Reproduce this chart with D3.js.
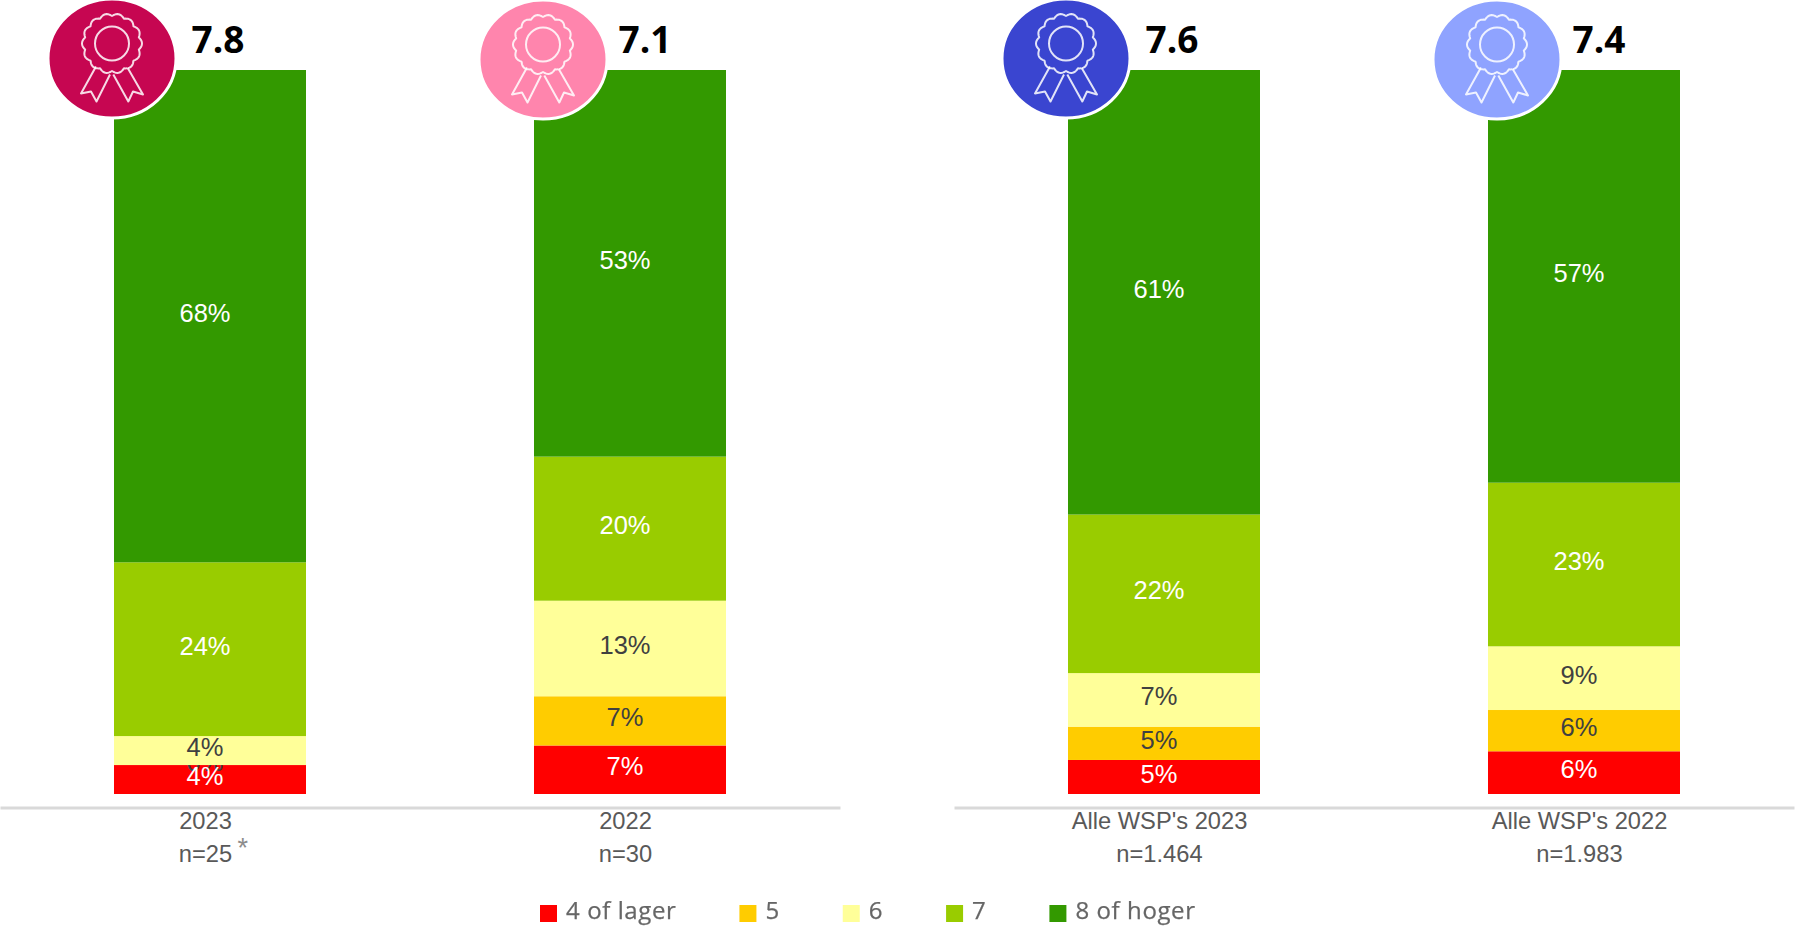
<!DOCTYPE html>
<html>
<head>
<meta charset="utf-8">
<style>
  html, body { margin: 0; padding: 0; background: #fff; }
  svg { display: block; }
  text { font-family: "Liberation Sans", Arial, sans-serif; }
  .score { font-family: "Open Sans", sans-serif; font-weight: 700; font-size: 37px; fill: #000; }
  .value { font-size: 25.5px; }
  .tick text { font-size: 23.7px; fill: #595959; }
  .legend-label { font-family: "Open Sans", sans-serif; font-size: 24px; letter-spacing: 0.6px; fill: #666; stroke: #666; stroke-width: 0.25px; filter: blur(0.4px); }
</style>
</head>
<body>
<svg></svg>
<script src="https://cdn.jsdelivr.net/npm/d3@7"></script>
<script>
var width = 1795,
    height = 926;

// Two panels with two bars each
var panel1Bars = ['2023', '2022'];
var panel2Bars = ["Alle WSP's 2023", "Alle WSP's 2022"];
var panel1N = ['n=25', 'n=30'];
var panel2N = ['n=1.464', 'n=1.983'];
var panel1Scores = ['7.8', '7.1'];
var panel2Scores = ['7.6', '7.4'];
var panel1Badges = ['#c60651', '#ff85ad'];
var panel2Badges = ['#3a45d0', '#8fa3ff'];

// Rating classes, bottom to top of the stack
var ratings = ['4 of lager', '5', '6', '7', '8 of hoger'];
var ratingColors = ['#ff0000', '#ffcc00', '#ffff99', '#99cc00', '#339900'];
var ratingText = ['#fff', '#404040', '#404040', '#fff', '#fff'];

// Percentages per bar
var lager = [4, 6.7, 4.7, 5.9];
var vijf = [0, 6.8, 4.6, 5.7];
var zes = [4, 13.2, 7.4, 8.8];
var zeven = [24, 19.9, 21.9, 22.6];
var hoger = [68, 53.4, 61.4, 57];
var seriesValues = [lager, vijf, zes, zeven, hoger];

var panelWidth = 840,
    barWidth = 192,
    axisY = 807.5,
    labelShift = -5;

var svg = d3.select('svg')
    .attr('width', width)
    .attr('height', height);

var y = d3.scaleLinear()
    .domain([0, 100])
    .range([794, 70]);

function drawPanel(left, names, counts, scores, badges, offset) {
    var g = svg.append('g')
        .attr('transform', 'translate(' + left + ',0)');

    var x = d3.scaleBand()
        .domain(names)
        .range([0, panelWidth]);

    var barX = function(name) {
        return x(name) + (x.bandwidth() - barWidth) / 2;
    };

    var rows = names.map(function(name, i) {
        var row = { name: name };
        ratings.forEach(function(r, s) {
            row[r] = seriesValues[s][i + offset];
        });
        return row;
    });

    var stacked = d3.stack().keys(ratings)(rows);

    // Each class draws its rect and label, so a later rect can hide an empty label
    var layers = g.selectAll('.layer')
        .data(stacked)
        .enter().append('g')
        .attr('class', 'layer');

    layers.selectAll('rect')
        .data(function(s) { return s; })
        .enter().append('rect')
        .attr('x', function(d) { return barX(d.data.name); })
        .attr('width', barWidth)
        .attr('y', function(d) { return y(d[1]); })
        .attr('height', function(d) { return y(d[0]) - y(d[1]); })
        .style('fill', function(d) { return ratingColors[ratings.indexOf(this.parentNode.__data__.key)]; });

    layers.selectAll('text')
        .data(function(s) { return s; })
        .enter().append('text')
        .attr('class', 'value')
        .attr('text-anchor', 'middle')
        .attr('x', function(d) { return barX(d.data.name) + barWidth / 2 + labelShift; })
        .attr('y', function(d) { return (y(d[0]) + y(d[1])) / 2 + 5.6; })
        .style('fill', function(d) { return ratingText[ratings.indexOf(this.parentNode.__data__.key)]; })
        .text(function(d) { return Math.round(d[1] - d[0]) + '%'; });

    // Red labels sit on top of everything
    layers.filter(function(s) { return s.key === ratings[0]; })
        .selectAll('text').each(function() {
            g.node().appendChild(this);
        });

    var axis = g.append('g')
        .attr('transform', 'translate(0,' + axisY + ')')
        .call(d3.axisBottom(x).tickSize(0).tickPadding(0));

    axis.select('.domain')
        .attr('stroke', '#d9d9d9')
        .attr('stroke-width', 3);

    axis.selectAll('.tick text').each(function(d, i) {
        var t = d3.select(this).text(null).attr('dy', null).attr('y', null);
        t.append('tspan').attr('x', -4.5).attr('y', 21.5).text(d);
        t.append('tspan').attr('x', -4.5).attr('y', 54).text(counts[i]);
    });

    // Award badge and mean score
    var badgeX = [112, 123];
    var scoreX = [191.5, 198.5];

    names.forEach(function(name, i) {
        var cx = x(name) + badgeX[i];
        var badge = g.append('g')
            .attr('transform', 'translate(' + cx + ',' + (i ? 59.5 : 58.5) + ')');

        // The badge is slightly squashed in the original
        badge.append('ellipse')
            .attr('rx', 64)
            .attr('ry', 59.5)
            .attr('fill', badges[i])
            .attr('stroke', '#fff')
            .attr('stroke-width', 3);

        drawRibbon(badge);

        g.append('text')
            .attr('class', 'score')
            .attr('x', x(name) + scoreX[i])
            .attr('y', 52.5)
            .text(scores[i]);
    });
}

function drawRibbon(badge) {
    var icon = badge.append('g')
        .attr('transform', 'translate(0,-15)')
        .attr('fill', 'none')
        .attr('stroke', '#fff')
        .attr('stroke-opacity', 0.85)
        .attr('stroke-width', 2)
        .attr('stroke-linejoin', 'round');

    // Scalloped rim, 14 round lobes
    var rim = d3.range(140).map(function(i) {
        var a = i / 140 * 2 * Math.PI;
        return [a, 27.5 + 2.5 * Math.abs(Math.sin(7 * a))];
    });
    icon.append('path')
        .attr('d', d3.lineRadial().curve(d3.curveLinearClosed)(rim));

    icon.append('circle').attr('r', 17);

    icon.append('path').attr('d', 'M-16,23L-31,50L-21,48L-15.5,58L-2,31');
    icon.append('path').attr('d', 'M1.3,31L16.3,58L21,48L31,51L16,25');
}

drawPanel(0, panel1Bars, panel1N, panel1Scores, panel1Badges, 0);
drawPanel(954, panel2Bars, panel2N, panel2Scores, panel2Badges, 2);

// Small-sample marker next to n=25
svg.append('text')
    .attr('x', 237.5)
    .attr('y', 857)
    .style('font-size', '27px')
    .style('fill', '#8c8c8c')
    .text('*');

// Legend
var legendX = 540;
ratings.forEach(function(r, i) {
    svg.append('rect')
        .attr('x', legendX)
        .attr('y', 905)
        .attr('width', 17)
        .attr('height', 17)
        .attr('fill', ratingColors[i]);

    var label = svg.append('text')
        .attr('class', 'legend-label')
        .attr('x', legendX + 26)
        .attr('y', 918.5)
        .text(r);

    legendX += 26 + label.node().getComputedTextLength() + 63;
});
</script>
</body>
</html>
